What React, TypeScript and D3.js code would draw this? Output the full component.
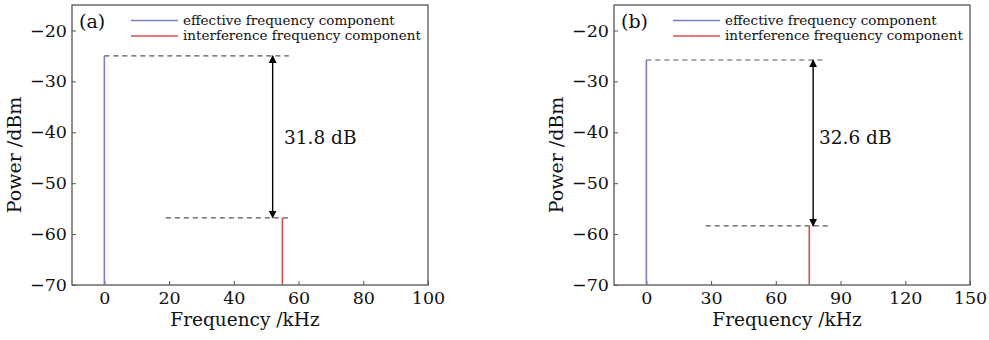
import React, { useEffect, useRef } from 'react';
import * as d3 from 'd3';

// values: (a) and (b) panels
const panelLabels = ['(a)', '(b)'];
const xDomains = [[-10, 100], [-15, 150]];
const xTicks = [[0, 20, 40, 60, 80, 100], [0, 30, 60, 90, 120, 150]];
const yTicks = [-70, -60, -50, -40, -30, -20];
const yDomain = [-70, -15];

// effective component: frequency (kHz), power (dBm)
const effectiveFreq = [0, 0];
const effectivePower = [-25, -25.8];
// interference component
const interferenceFreq = [55, 75.5];
const interferencePower = [-56.8, -58.4];

// dashed reference lines [from, to] in kHz
const upperDash = [[0, 57], [0, 82]];
const lowerDash = [[19, 57], [27.5, 84.5]];
const arrowFreq = [52, 77.3];
const gapLabels = ['31.8 dB', '32.6 dB'];
const labelPos = [[55.5, -41], [80, -41]];

const legendNames = ['effective frequency component', 'interference frequency component'];
const blue = '#7b7fc2';
const red = '#d9524f';
const axisColor = '#555';
const font = '"DejaVu Serif", "Liberation Serif", serif';

const W = 989;
const H = 340;
const panelLeft = [72, 614];
const panelW = 356;
const top = 5;
const bottom = 285;

const App = () => {
  const chartRef = useRef<SVGSVGElement>(null);

  useEffect(() => {
    const svg = d3.select(chartRef.current);
    svg.selectAll('*').remove();

    const defs = svg.append('defs');
    defs.append('marker')
      .attr('id', 'head')
      .attr('viewBox', '0 0 10 10')
      .attr('refX', 9)
      .attr('refY', 5)
      .attr('markerWidth', 8)
      .attr('markerHeight', 8)
      .attr('markerUnits', 'userSpaceOnUse')
      .attr('orient', 'auto-start-reverse')
      .append('path')
      .attr('d', 'M0,0 L10,5 L0,10 z')
      .attr('fill', '#000');

    panelLabels.forEach((lab, i) => {
      const left = panelLeft[i];
      const right = left + panelW;
      const x = d3.scaleLinear().domain(xDomains[i]).range([left, right]);
      const y = d3.scaleLinear().domain(yDomain).range([bottom, top]);
      const g = svg.append('g');

      // axes
      const xAxis = d3.axisBottom(x).tickValues(xTicks[i]).tickSize(-4).tickSizeOuter(0).tickPadding(7);
      const gx = g.append('g').attr('transform', `translate(0,${bottom})`).call(xAxis);
      const yAxis = d3.axisLeft(y).tickValues(yTicks).tickSize(-4).tickSizeOuter(0).tickPadding(5)
        .tickFormat(d => (d as number) < 0 ? '\u2212' + Math.abs(d as number) : String(d));
      const gy = g.append('g').attr('transform', `translate(${left},0)`).call(yAxis);
      [gx, gy].forEach(a => {
        a.select('.domain').remove();
        a.selectAll('line').attr('stroke', axisColor);
        a.selectAll('text').attr('font-family', font).attr('font-size', 17.5).attr('fill', '#111');
      });
      gx.selectAll('text').attr('dy', '0.7em');

      g.append('rect')
        .attr('x', left).attr('y', top)
        .attr('width', panelW).attr('height', bottom - top)
        .attr('fill', 'none').attr('stroke', axisColor).attr('stroke-width', 1.3);

      // axis titles
      g.append('text')
        .attr('x', (left + right) / 2 - 5).attr('y', 326)
        .attr('text-anchor', 'middle')
        .attr('font-family', font).attr('font-size', 18.5).attr('fill', '#111')
        .text('Frequency /kHz');
      g.append('text')
        .attr('transform', `translate(${left - 51},${(top + bottom) / 2 + 10}) rotate(-90)`)
        .attr('text-anchor', 'middle')
        .attr('font-family', font).attr('font-size', 19).attr('fill', '#111')
        .text('Power /dBm');

      // dashed reference lines
      const dashes = [[upperDash[i], effectivePower[i]], [lowerDash[i], interferencePower[i]]];
      dashes.forEach(([span, p]: any) => {
        g.append('line')
          .attr('x1', x(span[0])).attr('x2', x(span[1]))
          .attr('y1', y(p)).attr('y2', y(p))
          .attr('stroke', '#555').attr('stroke-width', 1.2)
          .attr('stroke-dasharray', '5,4');
      });

      // stems
      g.append('line')
        .attr('x1', x(effectiveFreq[i])).attr('x2', x(effectiveFreq[i]))
        .attr('y1', y(yDomain[0])).attr('y2', y(effectivePower[i]))
        .attr('stroke', blue).attr('stroke-width', 1.6);
      g.append('line')
        .attr('x1', x(interferenceFreq[i])).attr('x2', x(interferenceFreq[i]))
        .attr('y1', y(yDomain[0])).attr('y2', y(interferencePower[i]))
        .attr('stroke', red).attr('stroke-width', 1.6);

      // double arrow
      g.append('line')
        .attr('x1', x(arrowFreq[i])).attr('x2', x(arrowFreq[i]))
        .attr('y1', y(effectivePower[i])).attr('y2', y(interferencePower[i]))
        .attr('stroke', '#000').attr('stroke-width', 1.4)
        .attr('marker-start', 'url(#head)').attr('marker-end', 'url(#head)');

      g.append('text')
        .attr('x', x(labelPos[i][0])).attr('y', y(labelPos[i][1]))
        .attr('dy', '0.35em')
        .attr('font-family', font).attr('font-size', 18.5).attr('fill', '#111')
        .text(gapLabels[i]);

      // panel label
      g.append('text')
        .attr('x', left + 7).attr('y', 28)
        .attr('font-family', font).attr('font-size', 19).attr('fill', '#111')
        .text(lab);

      // legend
      legendNames.forEach((name, k) => {
        const ly = 20.5 + k * 15.5;
        g.append('line')
          .attr('x1', left + 59).attr('x2', left + 106)
          .attr('y1', ly).attr('y2', ly)
          .attr('stroke', k === 0 ? blue : red).attr('stroke-width', 1.4);
        g.append('text')
          .attr('x', left + 111).attr('y', ly).attr('dy', '0.32em')
          .attr('font-family', font).attr('font-size', 13.5).attr('fill', '#111')
          .text(name);
      });
    });
  });

  return (
    <svg
      ref={chartRef}
      width={W}
      height={H}
      viewBox={`0 0 ${W} ${H}`}
      style={{ position: 'absolute', left: 0, top: 0, background: '#fff' }}
    />
  );
};

export default App;
